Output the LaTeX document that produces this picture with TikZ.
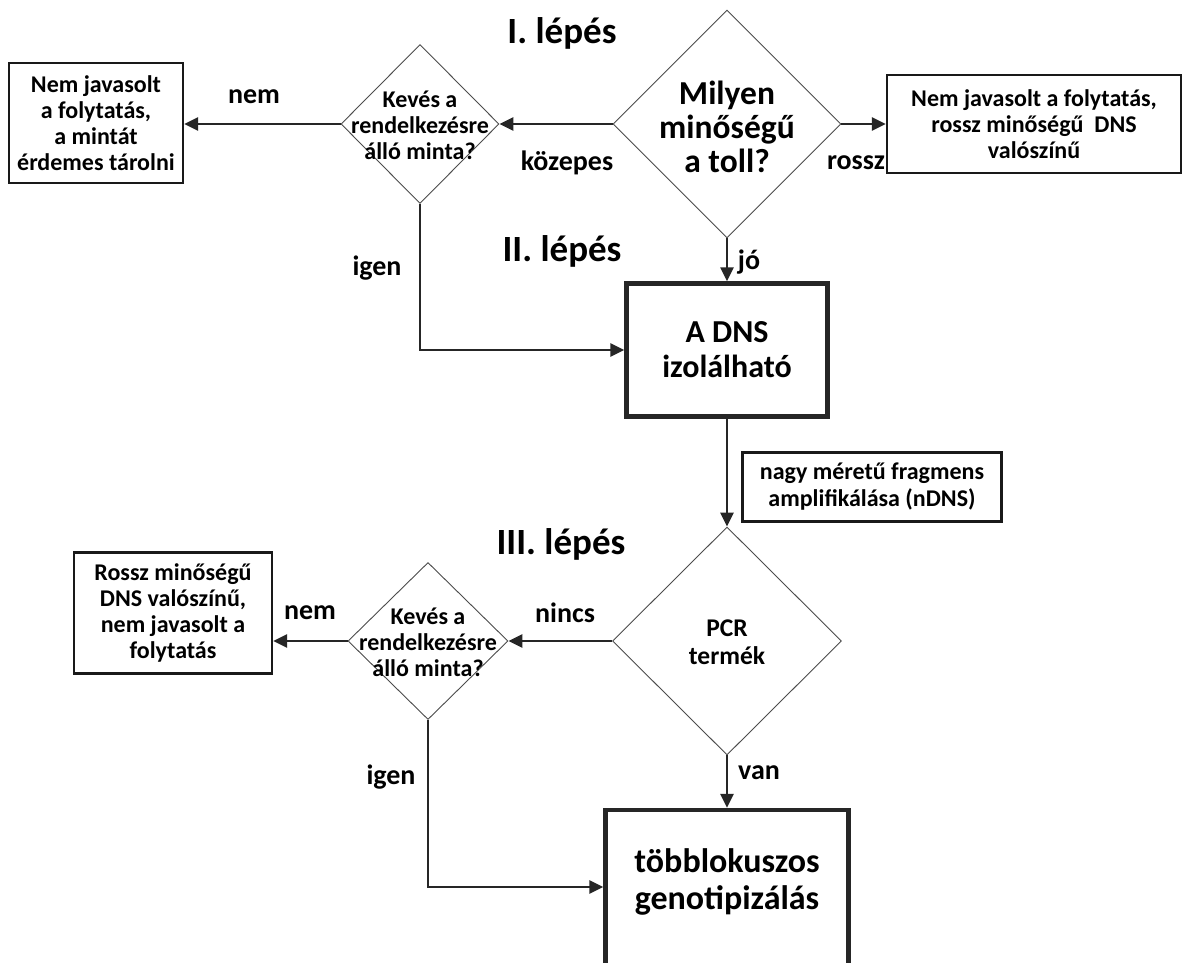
\documentclass[tikz,border=0pt]{standalone}
\usepackage{fontspec}
\setmainfont{Carlito}
\usetikzlibrary{shapes.geometric,arrows.meta,calc}
\begin{document}
\begin{tikzpicture}[x=1pt,y=-1pt,
  dia/.style={diamond,draw=black!70,line width=0.9pt,inner sep=0pt},
  tbox/.style={rectangle,draw=black!90,line width=2.2pt,inner sep=0pt,align=center},
  bigbox/.style={rectangle,draw=black!85,line width=4.5pt,inner sep=0pt,align=center},
  arr/.style={line width=2.6pt,draw=black!85,-{Triangle[length=14pt,width=13pt]}},
  lbl/.style={font=\fontsize{28}{30}\selectfont\bfseries,inner sep=0pt},
  stepl/.style={font=\fontsize{37}{39}\selectfont\bfseries,inner sep=0pt},
  small/.style={font=\fontsize{24}{26}\selectfont\bfseries},
  txt/.style={align=center,inner sep=0pt}
]
\fill[white] (0,0) rectangle (1186,963);
\useasboundingbox (0,0) rectangle (1186,963);
\clip (0,0) rectangle (1186,963);

% step headings
\node[stepl] (s1) at (562,33) {I. lépés};
\node[stepl] (s2) at (562,251) {II. lépés};
\node[stepl] (s3) at (561,544) {III. lépés};

% top row
\node[dia,minimum width=228pt,minimum height=228pt] (D1) at (727,124) {};
\node[txt,font=\fontsize{33.5}{34}\selectfont\bfseries] (D1t) at (727,127) {Milyen\\minőségű\\a toll?};

\node[dia,minimum width=158pt,minimum height=159pt] (K1) at (420,124) {};
\node[txt,small] (K1t) at (420,125) {Kevés a\\rendelkezésre\\álló minta?};

\node[tbox,small,minimum width=174pt,minimum height=120pt] (L1) at (96,123) {Nem javasolt\\a folytatás,\\a mintát\\érdemes tárolni};

\node[tbox,small,minimum width=294pt,minimum height=98pt] (R1) at (1034,124) {Nem javasolt a folytatás,\\rossz minőségű~ DNS\\valószínű};

% middle
\node[bigbox,minimum width=201pt,minimum height=133pt,font=\fontsize{32}{35}\selectfont\bfseries] (DNS) at (727,350) {A DNS\\izolálható};

\node[tbox,font=\fontsize{24}{27}\selectfont\bfseries,minimum width=259pt,minimum height=69pt] (N) at (872,487) {nagy méretű fragmens\\amplifikálása (nDNS)};

% lower row
\node[dia,minimum width=229pt,minimum height=228pt] (P) at (727,641) {};
\node[txt,font=\fontsize{25.5}{28}\selectfont\bfseries] (Pt) at (727,642) {PCR\\termék};

\node[dia,minimum width=160pt,minimum height=157pt] (K2) at (428,641) {};
\node[txt,small] (K2t) at (428,642) {Kevés a\\rendelkezésre\\álló minta?};

\node[tbox,small,minimum width=198pt,minimum height=121pt] (L2) at (173,613) {Rossz minőségű\\DNS valószínű,\\nem javasolt a\\folytatás};

\node[bigbox,minimum width=243pt,minimum height=180pt] (B) at (727,900) {};
\node[txt,font=\fontsize{34}{37}\selectfont\bfseries] (Bt) at (727,882) {többlokuszos\\genotipizálás};

% connectors
\draw[arr] (D1.west) -- (K1.east);
\draw[arr] (K1.west) -- (K1.west -| L1.east);
\draw[arr] (D1.east) -- (D1.east -| R1.west);
\draw[arr] (D1.south) -- (DNS.north);
\draw[arr] (K1.south) |- (DNS.west);
\draw[arr] (DNS.south) -- (P.north);
\draw[arr] (P.west) -- (K2.east);
\draw[arr] (K2.west) -- (K2.west -| L2.east);
\draw[arr] (P.south) -- (B.north);
\draw[arr] (K2.south) |- ([yshift=13pt]B.west);

% connector labels
\node[lbl] (l1) at (254,97) {nem};
\node[lbl] (l2) at (567,163) {közepes};
\node[lbl] (l3) at (856,163) {rossz};
\node[lbl] (l4) at (749,262) {jó};
\node[lbl] (l5) at (377,268) {igen};
\node[lbl] (l6) at (565,613) {nincs};
\node[lbl] (l7) at (310,613) {nem};
\node[lbl] (l8) at (759,773) {van};
\node[lbl] (l9) at (391,777) {igen};
\end{tikzpicture}
\end{document}
